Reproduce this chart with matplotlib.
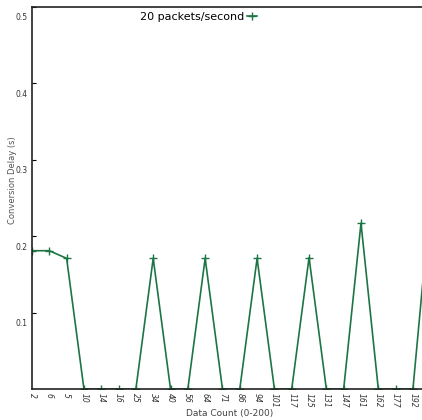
import matplotlib
matplotlib.use("Agg")
import matplotlib.pyplot as plt
import matplotlib.transforms as mtrans

categories = ["2", "6", "5", "10", "14", "16", "25", "34", "40", "56", "64", "71",
              "86", "94", "101", "117", "125", "131", "147", "161", "162", "177", "192", "200"]
delay = [0.181, 0.181, 0.171, 0.0, 0.0, 0.0, 0.0, 0.171, 0.0, 0.0, 0.171, 0.0,
         0.0, 0.171, 0.0, 0.0, 0.172, 0.0, 0.0, 0.217, 0.0, 0.0, 0.0, 0.245]
yticks = [0.1, 0.2, 0.3, 0.4, 0.5]
series_label = "20 packets/second"

color = "#1d7544"
fig = plt.figure(figsize=(4.22, 4.20), dpi=100)
ax = fig.add_axes([32/422, 31/420, (428-32)/422, (389-7)/420])

x = list(range(len(categories)))
ax.plot(x, delay, color=color, lw=1.2, marker="+", ms=6, mew=1.0, label=series_label, clip_on=True)

ax.set_xlim(0, 22.87)
ax.set_ylim(0, 0.5)
ax.set_xticks(x[:-1])
ax.set_xticklabels(categories[:-1], rotation=-90, fontsize=5.5, color="#333333", style="italic")
ax.set_yticks(yticks)
ax.set_yticklabels([])
off = mtrans.ScaledTranslation(-4/100, -11/100, fig.dpi_scale_trans)
for v in yticks:
    ax.text(0, v, f"{v:.1f}", transform=ax.get_yaxis_transform() + off,
            ha="right", va="center", fontsize=5.5, color="#333333")
ax.tick_params(axis="both", direction="in", length=3, width=0.8, pad=3)
ax.tick_params(axis="x", length=0, pad=3)

for s in ax.spines.values():
    s.set_linewidth(1.2)
    s.set_color("#222222")

ax.set_xlabel("Data Count (0-200)", fontsize=6.5, color="#444444", labelpad=1)
ax.set_ylabel("Conversion Delay (s)", fontsize=6, color="#555555")
ax.yaxis.set_label_coords(-0.038, 0.547)

leg = ax.legend(loc="upper center", bbox_to_anchor=(0.42, 1.005), frameon=False,
                fontsize=8, markerfirst=False, handlelength=0.9, handletextpad=0.3,
                borderaxespad=0.2)

fig.savefig("out.png", dpi=100)
